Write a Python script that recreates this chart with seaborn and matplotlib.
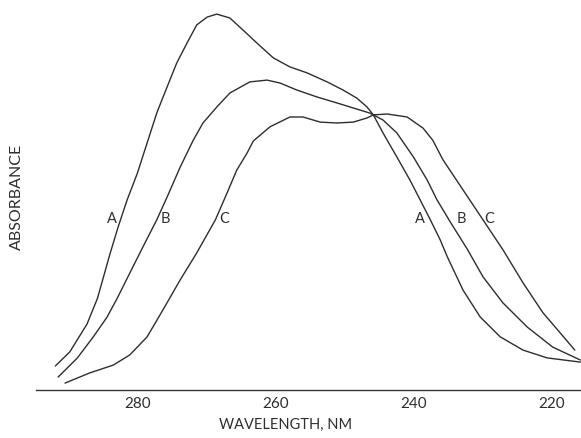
import numpy as np
import pandas as pd
import matplotlib
matplotlib.use("Agg")
import matplotlib.pyplot as plt
import seaborn as sns

# Absorption spectra (arbitrary absorbance units) of three samples A, B, C
wl_a = [292.0, 289.9, 287.4, 285.9, 285.1, 284.1, 282.9, 281.6, 280.1, 278.7,
        277.3, 275.8, 274.4, 272.9, 271.5, 270.0, 268.6, 266.7, 264.8, 262.8,
        260.4, 258.0, 255.5, 252.6, 250.3, 248.3, 246.8, 245.9, 244.5, 242.5,
        240.6, 239.1, 237.7, 236.2, 235.2, 232.9, 230.4, 227.5, 224.2, 220.7,
        215.9]
abs_a = [0.080, 0.127, 0.220, 0.305, 0.370, 0.452, 0.543, 0.633, 0.723, 0.823,
         0.923, 1.010, 1.090, 1.157, 1.217, 1.243, 1.253, 1.240, 1.200, 1.157,
         1.107, 1.077, 1.057, 1.027, 1.000, 0.973, 0.943, 0.917, 0.857, 0.777,
         0.700, 0.633, 0.570, 0.500, 0.445, 0.333, 0.243, 0.177, 0.133, 0.107,
         0.093]

wl_b = [291.6, 288.8, 286.5, 284.5, 283.0, 281.2, 279.3, 277.3, 275.8, 273.9,
        272.0, 270.6, 268.6, 266.7, 263.8, 261.3, 259.4, 257.0, 254.1, 251.2,
        248.8, 246.4, 244.5, 242.5, 240.1, 238.1, 236.7, 234.8, 232.3, 230.0,
        227.1, 223.6, 219.9, 215.9]
abs_b = [0.043, 0.107, 0.177, 0.243, 0.307, 0.390, 0.477, 0.567, 0.643, 0.743,
         0.833, 0.890, 0.943, 0.990, 1.027, 1.033, 1.023, 1.000, 0.977, 0.957,
         0.940, 0.923, 0.900, 0.857, 0.777, 0.700, 0.635, 0.562, 0.470, 0.377,
         0.290, 0.210, 0.143, 0.100]

wl_c = [290.6, 287.0, 283.6, 281.2, 278.7, 276.4, 273.9, 271.5, 268.8, 267.1,
        265.7, 264.2, 263.3, 260.9, 258.0, 256.1, 253.6, 251.2, 248.8, 246.8,
        245.9, 243.9, 241.0, 238.7, 237.3, 235.8, 232.9, 230.0, 227.1, 224.2,
        221.3, 218.8, 216.7]
abs_c = [0.023, 0.057, 0.083, 0.117, 0.177, 0.267, 0.367, 0.457, 0.567, 0.657,
         0.733, 0.790, 0.830, 0.877, 0.910, 0.910, 0.893, 0.890, 0.893, 0.907,
         0.917, 0.920, 0.910, 0.873, 0.833, 0.767, 0.667, 0.567, 0.467, 0.357,
         0.257, 0.190, 0.133]

# Curve labels: (text, wavelength, absorbance)
curve_labels = [("A", 283.8, 0.57), ("B", 276.1, 0.57), ("C", 267.5, 0.57),
                ("A", 239.2, 0.57), ("B", 233.2, 0.57), ("C", 229.1, 0.57)]

major_ticks = [280, 260, 240, 220]
minor_ticks = [290, 270, 250, 230]

df = pd.concat([
    pd.DataFrame({"wavelength": wl_a, "absorbance": abs_a, "sample": "A"}),
    pd.DataFrame({"wavelength": wl_b, "absorbance": abs_b, "sample": "B"}),
    pd.DataFrame({"wavelength": wl_c, "absorbance": abs_c, "sample": "C"}),
])

sns.set_style("white")
plt.rcParams["font.family"] = ["Lato", "DejaVu Sans"]

ink = "#2e2e2e"
fig = plt.figure(figsize=(5.81, 4.38), dpi=100)
ax = fig.add_axes([36 / 581, 48 / 438, 545 / 581, 390 / 438])

sns.lineplot(data=df, x="wavelength", y="absorbance", hue="sample",
             palette={"A": ink, "B": ink, "C": ink}, sort=True,
             estimator=None, linewidth=1.0, legend=False, ax=ax,
             solid_joinstyle="round", solid_capstyle="round")

for text, x, y in curve_labels:
    ax.text(x, y, text, ha="center", va="center", fontsize=10.5, color=ink)

ax.set_xlim(294.8, 215.8)
ax.set_ylim(0, 1.3)

sns.despine(ax=ax, left=True, top=True, right=True)
ax.spines["bottom"].set_color("#3a3434")
ax.spines["bottom"].set_linewidth(1.0)

ax.set_xticks(major_ticks)
ax.set_xticklabels([str(t) for t in major_ticks])
ax.set_xticks(minor_ticks, minor=True)
ax.set_yticks([])
ax.tick_params(axis="x", which="both", direction="in", length=4, width=1.0,
               color="#3a3434", labelsize=11, labelcolor=ink, pad=5)

ax.set_xlabel("WAVELENGTH, NM", fontsize=10.5, color=ink)
ax.xaxis.label.set_va("center")
ax.xaxis.set_label_coords((286 - 36) / 545, (390 - 425) / 390)
ax.set_ylabel("ABSORBANCE", fontsize=11.5, color=ink)
ax.yaxis.label.set_va("center")
ax.yaxis.set_label_coords((17 - 36) / 545, (390 - 197) / 390)

fig.savefig("out.png", dpi=100, facecolor="white")
